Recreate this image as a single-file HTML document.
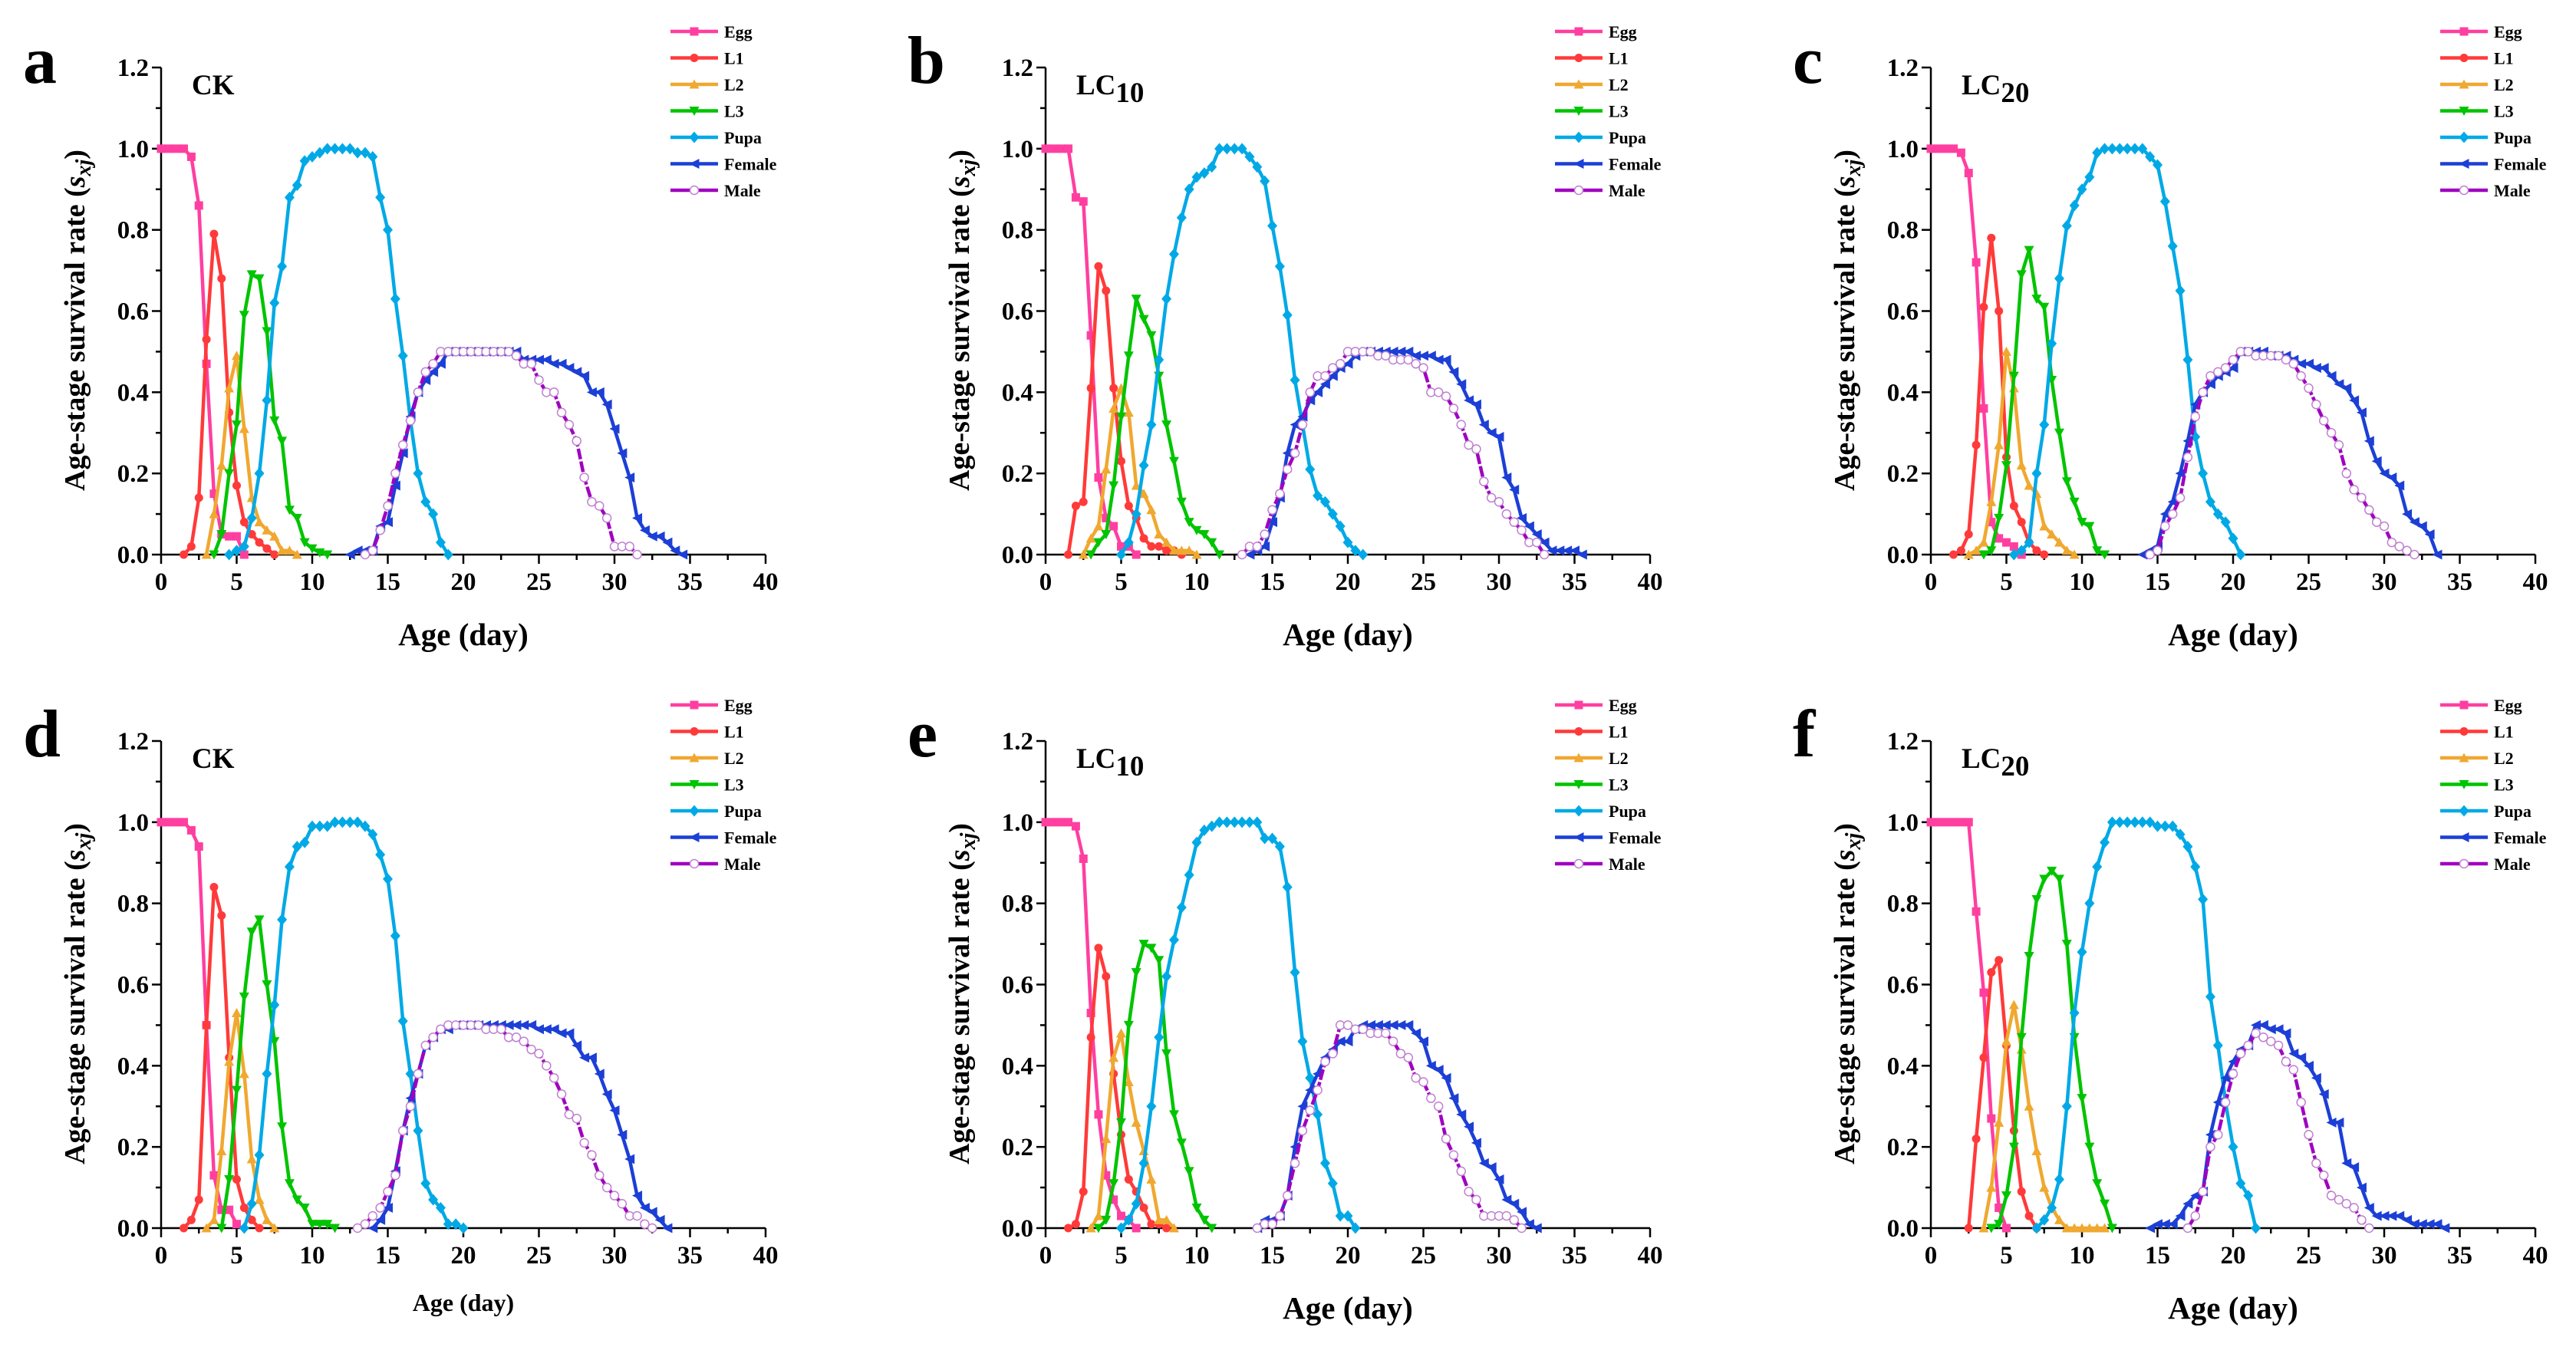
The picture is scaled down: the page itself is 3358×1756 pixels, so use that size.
<!DOCTYPE html>
<html><head><meta charset="utf-8"><style>
html,body{margin:0;padding:0;background:#fff}
svg{display:block;font-family:"Liberation Serif",serif;font-weight:bold}
</style></head><body>
<svg id="fig" width="3358" height="1756" viewBox="0 0 3358 1756" xmlns="http://www.w3.org/2000/svg"></svg>
<script>
// ---- data (day steps of 0.5) ----
const seriesNames = ["Egg","L1","L2","L3","Pupa","Female","Male"];
const xTicks = [0,5,10,15,20,25,30,35,40];
const yTicks = [0.0,0.2,0.4,0.6,0.8,1.0,1.2];

const aStarts = [0,1.5,3,3.5,4.5,12.5,13.5];
const aEgg = [1,1,1,1,0.98,0.86,0.47,0.15,0.05,0.045,0.045,0];
const aL1 = [0,0.02,0.14,0.53,0.79,0.68,0.35,0.17,0.08,0.05,0.03,0.015,0];
const aL2 = [0,0.1,0.22,0.41,0.49,0.31,0.14,0.08,0.06,0.045,0.01,0.01,0];
const aL3 = [0,0.05,0.2,0.32,0.59,0.69,0.68,0.55,0.33,0.28,0.11,0.09,0.03,0.015,0.005,0];
const aPupa = [0,0.01,0.02,0.09,0.2,0.38,0.62,0.71,0.88,0.91,0.97,0.98,0.99,1,1,1,1,0.99,0.99,0.98,0.88,0.8,0.63,0.49,0.33,0.2,0.13,0.1,0.03,0];
const aFemale = [0,0.01,0.01,0.01,0.07,0.08,0.17,0.25,0.34,0.4,0.43,0.45,0.47,0.5,0.5,0.5,0.5,0.5,0.5,0.5,0.5,0.5,0.5,0.48,0.48,0.48,0.48,0.47,0.47,0.46,0.45,0.44,0.4,0.4,0.37,0.31,0.25,0.19,0.09,0.06,0.045,0.045,0.03,0.01,0];
const aMale = [0,0.01,0.06,0.12,0.2,0.27,0.33,0.4,0.45,0.47,0.5,0.5,0.5,0.5,0.5,0.5,0.5,0.5,0.5,0.5,0.49,0.47,0.47,0.43,0.4,0.4,0.35,0.32,0.28,0.19,0.13,0.12,0.09,0.02,0.02,0.02,0];

const bStarts = [0,1.5,2.5,3,5,13.5,13];
const bEgg = [1,1,1,1,0.88,0.87,0.54,0.19,0.09,0.07,0.02,0.02,0];
const bL1 = [0,0.12,0.13,0.41,0.71,0.65,0.41,0.23,0.12,0.09,0.04,0.02,0.02,0.01,0.01,0];
const bL2 = [0,0.04,0.07,0.21,0.36,0.41,0.35,0.17,0.15,0.11,0.05,0.03,0.01,0.01,0.01,0];
const bL3 = [0,0.03,0.05,0.17,0.34,0.49,0.63,0.58,0.54,0.44,0.32,0.23,0.13,0.08,0.06,0.05,0.03,0];
const bPupa = [0,0.03,0.1,0.22,0.32,0.48,0.63,0.74,0.83,0.9,0.93,0.94,0.955,1,1,1,1,0.98,0.955,0.92,0.81,0.71,0.59,0.43,0.32,0.21,0.145,0.13,0.1,0.07,0.03,0.01,0];
const bFemale = [0,0.01,0.02,0.08,0.14,0.25,0.32,0.34,0.38,0.4,0.42,0.44,0.46,0.47,0.49,0.5,0.5,0.5,0.5,0.5,0.5,0.5,0.49,0.49,0.49,0.48,0.48,0.45,0.42,0.38,0.37,0.32,0.3,0.29,0.19,0.16,0.09,0.07,0.05,0.03,0.01,0.01,0.01,0.01,0];
const bMale = [0,0.02,0.02,0.05,0.11,0.15,0.21,0.25,0.32,0.4,0.44,0.44,0.46,0.47,0.5,0.5,0.5,0.5,0.49,0.49,0.48,0.48,0.48,0.47,0.46,0.4,0.4,0.39,0.36,0.32,0.27,0.26,0.18,0.14,0.13,0.1,0.08,0.06,0.03,0.03,0];

const cStarts = [0,1.5,2.5,3.5,5.5,14,14.5];
const cEgg = [1,1,1,1,0.99,0.94,0.72,0.36,0.08,0.04,0.03,0.02,0];
const cL1 = [0,0.01,0.05,0.27,0.61,0.78,0.6,0.24,0.12,0.08,0.03,0.01,0];
const cL2 = [0,0.01,0.03,0.13,0.27,0.5,0.41,0.22,0.17,0.15,0.07,0.05,0.03,0.01,0];
const cL3 = [0,0.01,0.09,0.22,0.44,0.69,0.75,0.63,0.61,0.43,0.3,0.18,0.13,0.08,0.07,0.01,0];
const cPupa = [0,0.01,0.03,0.2,0.32,0.52,0.68,0.81,0.86,0.9,0.93,0.99,1,1,1,1,1,1,0.98,0.96,0.87,0.76,0.65,0.48,0.29,0.2,0.13,0.1,0.08,0.04,0];
const cFemale = [0,0.01,0.02,0.1,0.13,0.2,0.28,0.37,0.4,0.42,0.44,0.45,0.46,0.5,0.5,0.5,0.5,0.49,0.49,0.49,0.48,0.47,0.47,0.46,0.46,0.44,0.42,0.41,0.38,0.35,0.28,0.23,0.2,0.19,0.17,0.1,0.08,0.07,0.05,0];
const cMale = [0,0.01,0.07,0.1,0.14,0.24,0.34,0.4,0.44,0.45,0.46,0.48,0.5,0.5,0.49,0.49,0.49,0.49,0.48,0.47,0.44,0.41,0.37,0.33,0.3,0.27,0.2,0.16,0.14,0.11,0.08,0.07,0.03,0.02,0.01,0];

const dStarts = [0,1.5,3,4,5.5,14,13];
const dEgg = [1,1,1,1,0.98,0.94,0.5,0.13,0.045,0.045,0.01];
const dL1 = [0,0.02,0.07,0.5,0.84,0.77,0.42,0.12,0.05,0.02,0];
const dL2 = [0,0.02,0.19,0.41,0.53,0.38,0.17,0.07,0.02,0];
const dL3 = [0,0.12,0.34,0.57,0.73,0.76,0.6,0.46,0.25,0.11,0.07,0.05,0.01,0.01,0.01,0];
const dPupa = [0,0.06,0.18,0.38,0.55,0.76,0.89,0.94,0.95,0.99,0.99,0.99,1,1,1,1,0.99,0.97,0.92,0.86,0.72,0.51,0.38,0.24,0.11,0.07,0.05,0.01,0.01,0];
const dFemale = [0,0.02,0.05,0.14,0.24,0.32,0.38,0.45,0.47,0.49,0.49,0.5,0.5,0.5,0.5,0.5,0.5,0.5,0.5,0.5,0.5,0.5,0.49,0.49,0.49,0.48,0.48,0.45,0.42,0.42,0.38,0.33,0.29,0.23,0.17,0.08,0.05,0.04,0.02,0];
const dMale = [0,0.01,0.03,0.05,0.09,0.13,0.24,0.3,0.38,0.45,0.47,0.49,0.5,0.5,0.5,0.5,0.5,0.49,0.49,0.49,0.47,0.47,0.46,0.44,0.43,0.4,0.37,0.33,0.28,0.27,0.21,0.18,0.13,0.1,0.08,0.06,0.03,0.03,0.01,0];

const eStarts = [0,1.5,3,3.5,5,14,14];
const eEgg = [1,1,1,1,0.99,0.91,0.53,0.28,0.13,0.07,0.03,0.02,0];
const eL1 = [0,0.01,0.09,0.47,0.69,0.62,0.38,0.23,0.12,0.09,0.05,0.01,0.01,0];
const eL2 = [0,0.03,0.22,0.42,0.48,0.36,0.26,0.19,0.12,0.02,0.02,0];
const eL3 = [0,0.02,0.11,0.26,0.5,0.63,0.7,0.69,0.66,0.43,0.28,0.21,0.14,0.05,0.02,0];
const ePupa = [0,0.02,0.06,0.16,0.3,0.47,0.62,0.71,0.79,0.87,0.95,0.98,0.99,1,1,1,1,1,1,0.96,0.96,0.94,0.84,0.63,0.46,0.37,0.28,0.16,0.11,0.03,0.03,0];
const eFemale = [0,0.02,0.02,0.03,0.08,0.2,0.3,0.34,0.38,0.42,0.44,0.46,0.46,0.49,0.5,0.5,0.5,0.5,0.5,0.5,0.5,0.48,0.46,0.4,0.39,0.37,0.32,0.28,0.25,0.21,0.16,0.15,0.12,0.07,0.06,0.04,0.01,0];
const eMale = [0,0.01,0.01,0.03,0.08,0.16,0.24,0.29,0.34,0.41,0.43,0.5,0.5,0.49,0.49,0.48,0.48,0.48,0.46,0.43,0.42,0.37,0.36,0.32,0.3,0.22,0.18,0.14,0.09,0.07,0.03,0.03,0.03,0.03,0.02,0];

const fStarts = [0,2.5,3.5,4,7,14.5,17];
const fEgg = [1,1,1,1,1,1,0.78,0.58,0.27,0.05,0];
const fL1 = [0,0.22,0.42,0.63,0.66,0.45,0.24,0.09,0.03,0];
const fL2 = [0,0.1,0.26,0.46,0.55,0.44,0.3,0.19,0.1,0.05,0.02,0,0,0,0,0,0];
const fL3 = [0,0.01,0.08,0.2,0.47,0.67,0.81,0.86,0.88,0.86,0.7,0.47,0.32,0.2,0.11,0.06,0];
const fPupa = [0,0.02,0.05,0.12,0.3,0.53,0.68,0.8,0.89,0.95,1,1,1,1,1,1,0.99,0.99,0.99,0.97,0.94,0.89,0.81,0.57,0.45,0.31,0.2,0.11,0.08,0];
const fFemale = [0,0.01,0.01,0.01,0.03,0.06,0.08,0.09,0.23,0.31,0.37,0.41,0.44,0.45,0.5,0.5,0.49,0.49,0.48,0.43,0.42,0.4,0.37,0.33,0.26,0.26,0.16,0.15,0.1,0.05,0.03,0.03,0.03,0.03,0.02,0.01,0.01,0.01,0.01,0];
const fMale = [0,0.03,0.09,0.2,0.23,0.31,0.38,0.43,0.45,0.48,0.47,0.46,0.45,0.41,0.39,0.31,0.23,0.16,0.13,0.08,0.07,0.06,0.05,0.02,0];

// ---- layout ----
const NS = "http://www.w3.org/2000/svg";
const svg = document.getElementById("fig");
const colors = ["#ff3fa0","#ff3a3a","#f0a830","#00c400","#00a9e6","#1c3fd6","#a000c0"];
const panels = [
  {letter:"a", label:"CK", sub:"", x0:210, y0:723, data:[aEgg,aL1,aL2,aL3,aPupa,aFemale,aMale], starts:aStarts, xt:40},
  {letter:"b", label:"LC", sub:"10", x0:1363, y0:723, data:[bEgg,bL1,bL2,bL3,bPupa,bFemale,bMale], starts:bStarts, xt:40},
  {letter:"c", label:"LC", sub:"20", x0:2517, y0:723, data:[cEgg,cL1,cL2,cL3,cPupa,cFemale,cMale], starts:cStarts, xt:40},
  {letter:"d", label:"CK", sub:"", x0:210, y0:1601, data:[dEgg,dL1,dL2,dL3,dPupa,dFemale,dMale], starts:dStarts, xt:30},
  {letter:"e", label:"LC", sub:"10", x0:1363, y0:1601, data:[eEgg,eL1,eL2,eL3,ePupa,eFemale,eMale], starts:eStarts, xt:40},
  {letter:"f", label:"LC", sub:"20", x0:2517, y0:1601, data:[fEgg,fL1,fL2,fL3,fPupa,fFemale,fMale], starts:fStarts, xt:40}
];
const W = 788, H = 635;

function mk(tag, attrs, parent){
  const e = document.createElementNS(NS, tag);
  for (const k in attrs) e.setAttribute(k, attrs[k]);
  (parent||svg).appendChild(e);
  return e;
}

function marker(g, shape, cx, cy, col){
  const s = 5.5;
  let m;
  if (shape === 0) m = mk("rect",{x:cx-s,y:cy-s,width:2*s,height:2*s,fill:col},g);
  else if (shape === 1) m = mk("circle",{cx:cx,cy:cy,r:s,fill:col},g);
  else if (shape === 2) m = mk("polygon",{points:`${cx},${cy-s-1} ${cx-s-1},${cy+s} ${cx+s+1},${cy+s}`,fill:col},g);
  else if (shape === 3) m = mk("polygon",{points:`${cx},${cy+s+1} ${cx-s-1},${cy-s} ${cx+s+1},${cy-s}`,fill:col},g);
  else if (shape === 4) m = mk("polygon",{points:`${cx},${cy-s-2} ${cx+s+1},${cy} ${cx},${cy+s+2} ${cx-s-1},${cy}`,fill:col},g);
  else if (shape === 5) m = mk("polygon",{points:`${cx-s-1},${cy} ${cx+s+1},${cy-s-1} ${cx+s+1},${cy+s+1}`,fill:col},g);
  else m = mk("circle",{cx:cx,cy:cy,r:s,fill:"#fff",stroke:"#c080d0","stroke-width":1.5},g);
  
  
}

panels.forEach(p => {
  const g = mk("g",{});
  
  
  const xs = d => p.x0 + d / 40 * W;
  const ys = v => p.y0 - v / 1.2 * H;

  // axes
  const ax = mk("path",{d:`M${p.x0},${p.y0-H} V${p.y0} H${p.x0+W}`,stroke:"#000","stroke-width":2.5,fill:"none"},g);
  
  
  // x ticks
  for (let d = 0; d <= 40; d += 2.5){
    const major = d % 5 === 0;
    mk("line",{x1:xs(d),x2:xs(d),y1:p.y0,y2:p.y0+(major?12:7),stroke:"#000","stroke-width":2.5},g);
  }
  xTicks.forEach(t => {
    const tx = mk("text",{x:xs(t),y:p.y0+46,"text-anchor":"middle","font-size":33},g);
    tx.textContent = t;
    
    
  });
  // y ticks
  for (let k = 0; k <= 12; k++){
    const v = k / 10;
    const major = k % 2 === 0;
    mk("line",{x1:p.x0-(major?12:7),x2:p.x0,y1:ys(v),y2:ys(v),stroke:"#000","stroke-width":2.5},g);
  }
  yTicks.forEach(t => {
    const ty = mk("text",{x:p.x0-16,y:ys(t)+11,"text-anchor":"end","font-size":33},g);
    ty.textContent = t.toFixed(1);
    
    
  });
  // titles
  const xt = mk("text",{x:xs(20),y:p.y0+(p.xt===30?108:118),"text-anchor":"middle","font-size":p.xt===30?32:41},g);
  xt.textContent = "Age (day)";
  
  
  const yt = mk("text",{transform:`translate(${p.x0-100},${p.y0-H/2+12}) rotate(-90)`,"text-anchor":"middle","font-size":38},g);
  yt.innerHTML = 'Age-stage survival rate (<tspan font-style="italic">s</tspan><tspan font-style="italic" font-size="28" dy="8">xj</tspan><tspan dy="-8">)</tspan>';
  
  
  // panel letter
  const pl = mk("text",{x:p.x0-180,y:p.y0-615,"font-size":88},g);
  pl.textContent = p.letter;
  
  
  // treatment label
  const tl = mk("text",{x:p.x0+40,y:p.y0-600,"font-size":37},g);
  tl.innerHTML = p.label + (p.sub ? '<tspan font-size="37" dy="10">' + p.sub + '</tspan>' : '');
  
  

  // series
  p.data.forEach((vals, si) => {
    const sg = mk("g",{},g);
    
    
    const st = p.starts[si];
    const pts = vals.map((v,i) => [xs(st + i*0.5), ys(v)]);
    const line = mk("polyline",{points:pts.map(q=>q.join(",")).join(" "),fill:"none",stroke:colors[si],"stroke-width":4.5,"stroke-linejoin":"round","stroke-dasharray":si===6?"14 3":"none"},sg);
    
    
    pts.forEach(q => marker(sg, si, q[0], q[1], colors[si]));
  });

  // legend
  const lg = mk("g",{},g);
  
  
  seriesNames.forEach((n, si) => {
    const ly = p.y0 - 682 + si * 34.5;
    const lx = p.x0 + 664;
    const e = mk("g",{},lg);
    
    
    mk("line",{x1:lx,x2:lx+62,y1:ly,y2:ly,stroke:colors[si],"stroke-width":4.5},e);
    marker(e, si, lx+31, ly, colors[si]);
    const t = mk("text",{x:lx+70,y:ly+8,"font-size":22},e);
    t.textContent = n;
  });
});
</script>
</body></html>
